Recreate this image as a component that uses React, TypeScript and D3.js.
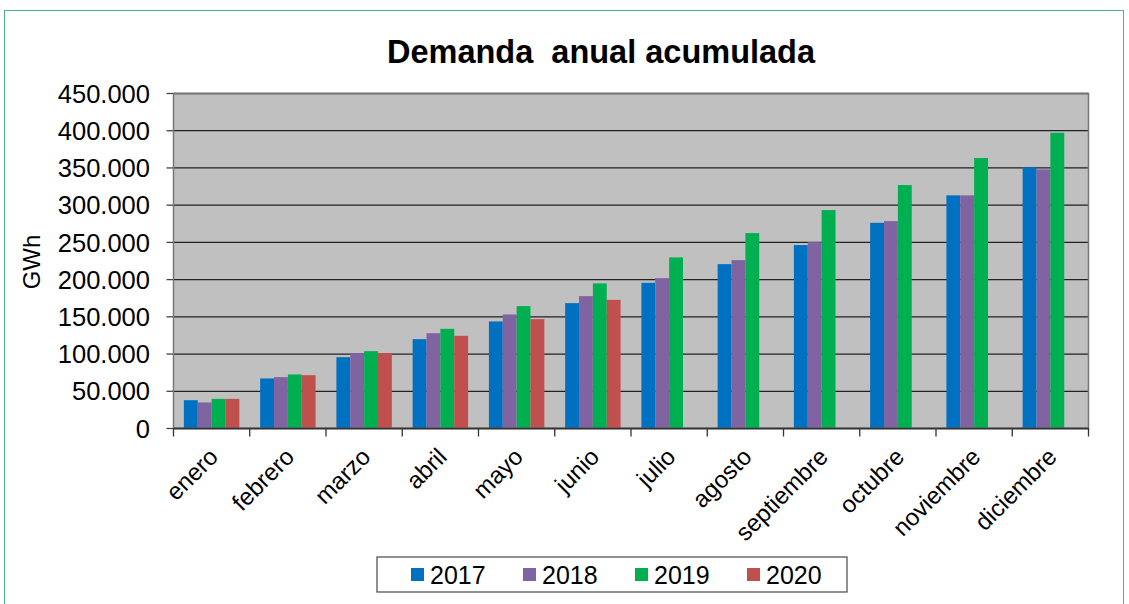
import React from 'react';
import * as d3 from 'd3';

const months = ['enero', 'febrero', 'marzo', 'abril', 'mayo', 'junio', 'julio', 'agosto', 'septiembre', 'octubre', 'noviembre', 'diciembre'];
const years = ['2017', '2018', '2019', '2020'];
const yearColors = ['#0070C0', '#8064A2', '#00B050', '#C0504D'];

const v2017 = [38000, 67200, 95800, 120000, 143800, 168400, 195700, 220800, 246400, 276300, 313200, 350800];
const v2018 = [35000, 69000, 101200, 128000, 153200, 177800, 202000, 226200, 250400, 278600, 313200, 348100];
const v2019 = [39800, 72600, 103900, 133900, 164400, 194900, 229800, 262500, 293400, 327000, 363300, 397300];
const v2020 = [39800, 71600, 101200, 124500, 146900, 172800];

const yTicks = [0, 50000, 100000, 150000, 200000, 250000, 300000, 350000, 400000, 450000];

const series = [v2017, v2018, v2019, v2020];

const W = 1129;
const H = 604;
const plot = { left: 173.5, right: 1088.5, top: 93.5, bottom: 428.5 };

const fmt = (v: number) => (v === 0 ? '0' : d3.format(',.3f')(v / 1000).replace(/,/g, '.'));

export default function App() {
    const x = d3.scaleBand().domain(months).range([plot.left, plot.right]);
    const inner = d3
        .scaleBand()
        .domain(years)
        .range([0, x.bandwidth()])
        .paddingInner(0)
        .paddingOuter(0.75);
    const y = d3.scaleLinear().domain([0, 450000]).range([plot.bottom, plot.top]);
    const font = 'Arial, "Liberation Sans", sans-serif';

    return (
        <svg width={W} height={H} style={{ position: 'absolute', left: 0, top: 0 }} fontFamily={font}>
            <rect x={0} y={0} width={W} height={H} fill="#fff" />
            <rect x={4.5} y={10.5} width={1119} height={600} fill="none" stroke="#4DB38F" strokeWidth={1} />
            <text x={601} y={63} textAnchor="middle" fontWeight="bold" fontSize={32.5} style={{ whiteSpace: 'pre' }}>
                {'Demanda  anual acumulada'}
            </text>

            <rect x={plot.left} y={plot.top} width={plot.right - plot.left} height={plot.bottom - plot.top} fill="#C0C0C0" />
            {yTicks.map((t) => (
                <g key={t}>
                    <line x1={plot.left} x2={plot.right} y1={y(t)} y2={y(t)} stroke="#222" strokeWidth={1.3} />
                    <line x1={plot.left - 7} x2={plot.left} y1={y(t)} y2={y(t)} stroke="#444" strokeWidth={1.3} />
                    <text x={150} y={y(t)} dy="0.36em" textAnchor="end" fontSize={25.5}>
                        {fmt(t)}
                    </text>
                </g>
            ))}

            {series.map((vals, si) =>
                vals.map((v, mi) => (
                    <rect
                        key={`${si}-${mi}`}
                        x={(x(months[mi]) as number) + (inner(years[si]) as number)}
                        y={y(v)}
                        width={inner.bandwidth()}
                        height={plot.bottom - y(v)}
                        fill={yearColors[si]}
                    />
                ))
            )}

            <rect x={plot.left} y={plot.top} width={plot.right - plot.left} height={plot.bottom - plot.top} fill="none" stroke="#777" strokeWidth={1.5} />
            <line x1={plot.left} x2={plot.right} y1={plot.bottom} y2={plot.bottom} stroke="#333" strokeWidth={1.5} />

            {months.map((m, i) => (
                <line key={m} x1={plot.left + i * x.bandwidth()} x2={plot.left + i * x.bandwidth()} y1={plot.bottom} y2={plot.bottom + 8} stroke="#333" strokeWidth={1.3} />
            ))}
            <line x1={plot.right} x2={plot.right} y1={plot.bottom} y2={plot.bottom + 8} stroke="#333" strokeWidth={1.3} />

            {months.map((m) => {
                const cx = (x(m) as number) + x.bandwidth() / 2 - 4;
                const cy = plot.bottom + 18;
                return (
                    <text key={m} x={cx} y={cy} textAnchor="end" fontSize={24} transform={`rotate(-45 ${cx} ${cy})`} dy="0.7em">
                        {m}
                    </text>
                );
            })}

            <text transform="translate(40,262) rotate(-90)" textAnchor="middle" fontSize={24}>
                GWh
            </text>

            <rect x={377} y={557} width={470} height={35} fill="#fff" stroke="#555" strokeWidth={1.3} />
            {years.map((yr, i) => (
                <g key={yr} transform={`translate(${411 + i * 112},0)`}>
                    <rect x={0} y={568} width={13} height={13} fill={yearColors[i]} />
                    <text x={19} y={584} fontSize={25}>
                        {yr}
                    </text>
                </g>
            ))}
        </svg>
    );
}
